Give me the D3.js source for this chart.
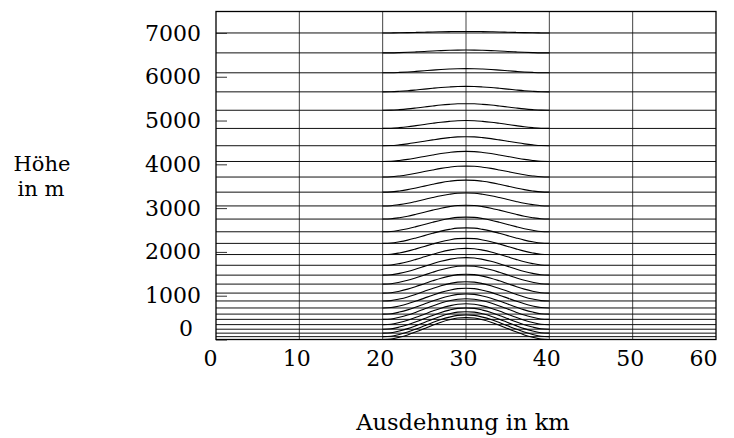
<!DOCTYPE html>
<html>
<head>
<meta charset="utf-8">
<script src="https://cdn.jsdelivr.net/npm/d3@7"></script>
<style>
  body { margin: 0; background: #fff; }
  svg text { font-family: "DejaVu Serif", "Liberation Serif", serif; fill: #000; }
</style>
</head>
<body>
<div id="chart"></div>
<script>
// Hoehen der Modellflaechen ueber flachem Gelaende (m)
const levels = [7000, 6545, 6090, 5655, 5235, 4820, 4425, 4065, 3710, 3365, 3050, 2750, 2460,
    2195, 1940, 1695, 1470, 1265, 1060, 880, 720, 580, 460, 340, 235, 145, 65, 0];
// Auslenkung jeder Flaeche ueber dem Berggipfel (m)
const bumps = [35, 65, 95, 125, 150, 180, 205, 230, 250, 275, 295, 315, 335,
    355, 370, 385, 400, 415, 430, 440, 450, 460, 470, 475, 485, 490, 495, 500];
// Bergprofil (km) und relative Hoehe
const hillX = [20, 21, 22, 23, 24, 25, 26, 27, 28, 29, 30, 31, 32, 33, 34, 35, 36, 37, 38, 39, 40];
const hillShape = [0, 0.02, 0.10, 0.21, 0.35, 0.50, 0.65, 0.79, 0.90, 0.98, 1, 0.98, 0.90, 0.79,
    0.65, 0.50, 0.35, 0.21, 0.10, 0.02, 0];
const xTicks = [0, 10, 20, 30, 40, 50, 60];
const yTicks = [0, 1000, 2000, 3000, 4000, 5000, 6000, 7000];

const width = 734;
const height = 438;
const margin = { top: 11.5, right: 18, bottom: 98.5, left: 216 };

const svg = d3.select("#chart")
    .append("svg")
    .attr("width", width)
    .attr("height", height);

const x = d3.scaleLinear()
    .domain([0, 60])
    .range([margin.left, width - margin.right]);

const y = d3.scaleLinear()
    .domain([0, 7490])
    .range([height - margin.bottom, margin.top]);

// vertikale Gitterlinien
svg.append("g")
    .selectAll("line")
    .data(xTicks.slice(1, -1))
    .enter()
    .append("line")
    .attr("x1", d => x(d))
    .attr("x2", d => x(d))
    .attr("y1", y.range()[0])
    .attr("y2", y.range()[1])
    .attr("stroke", "#444")
    .attr("stroke-width", 1);

// flache Flaechen
svg.append("g")
    .selectAll("line")
    .data(levels.filter(d => d > 0))
    .enter()
    .append("line")
    .attr("x1", x(0))
    .attr("x2", x(60))
    .attr("y1", d => y(d))
    .attr("y2", d => y(d))
    .attr("stroke", "#111")
    .attr("stroke-width", 1);

// gelaendefolgende Flaechen ueber dem Berg
const line = d3.line()
    .x(d => x(d[0]))
    .y(d => y(d[1]))
    .curve(d3.curveMonotoneX);

svg.append("g")
    .selectAll("path")
    .data(levels.map((z, i) => hillX.map((hx, j) => [hx, z + bumps[i] * hillShape[j]])))
    .enter()
    .append("path")
    .attr("d", line)
    .attr("fill", "none")
    .attr("stroke", "#000")
    .attr("stroke-width", 1.1);

// y Achse
const yAxis = svg.append("g")
    .attr("transform", `translate(${x(0)},0)`)
    .call(d3.axisLeft(y).tickValues(yTicks).tickSize(-11).tickPadding(15).tickFormat(d3.format("d")));
yAxis.select(".domain").remove();
yAxis.selectAll("line").attr("stroke", "#333");
yAxis.selectAll("text")
    .style("font-size", "22px")
    .attr("dx", d => d === 0 ? -8 : 0)
    .attr("dy", d => d === 0 ? "0" : "0.32em")
    .attr("y", d => d === 0 ? -4 : 0);

// x Achse
const xAxis = svg.append("g")
    .attr("transform", `translate(0,${y(0)})`)
    .call(d3.axisBottom(x).tickValues(xTicks).tickSize(0).tickPadding(11));
xAxis.select(".domain").remove();
xAxis.selectAll("text")
    .style("font-size", "22px")
    .attr("dx", d => d === 0 ? -6 : d === 60 ? -13 : -3);

// Rahmen
svg.append("rect")
    .attr("x", x(0))
    .attr("y", y.range()[1])
    .attr("width", x(60) - x(0))
    .attr("height", y.range()[0] - y.range()[1])
    .attr("fill", "none")
    .attr("stroke", "#000")
    .attr("stroke-width", 1.3);

// Achsentitel
svg.append("text")
    .attr("x", 463)
    .attr("y", 430)
    .attr("text-anchor", "middle")
    .style("font-size", "22.5px")
    .text("Ausdehnung in km");

svg.append("text")
    .attr("x", 42)
    .attr("y", 171)
    .attr("text-anchor", "middle")
    .style("font-size", "21px")
    .text("Höhe");

svg.append("text")
    .attr("x", 41)
    .attr("y", 196)
    .attr("text-anchor", "middle")
    .style("font-size", "21px")
    .text("in m");
</script>
</body>
</html>
